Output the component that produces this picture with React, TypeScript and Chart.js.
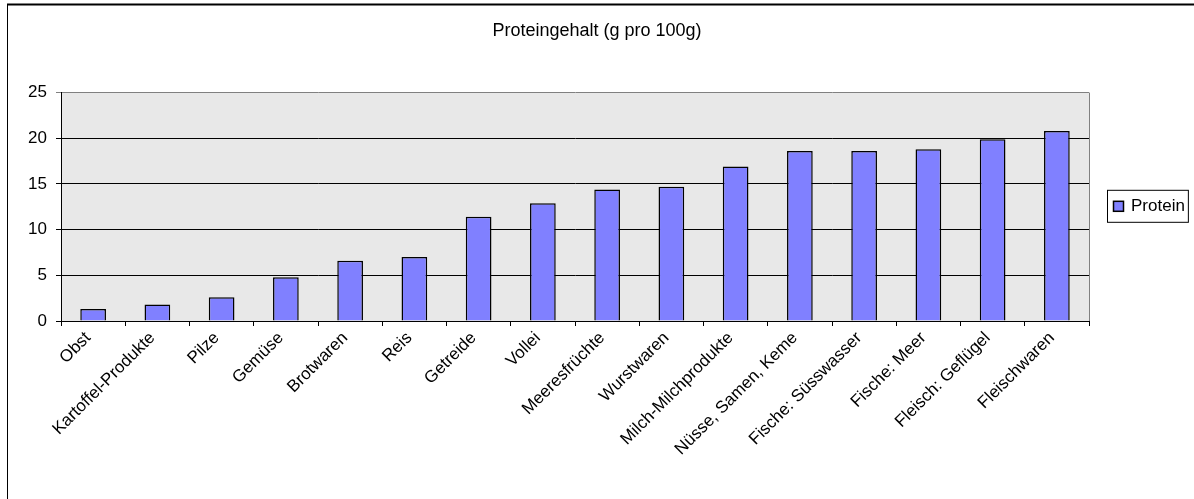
import React, { useEffect, useRef } from "react";
import { Chart, registerables } from "chart.js";

Chart.register(...registerables);

const categories = [
  "Obst",
  "Kartoffel-Produkte",
  "Pilze",
  "Gemüse",
  "Brotwaren",
  "Reis",
  "Getreide",
  "Vollei",
  "Meeresfrüchte",
  "Wurstwaren",
  "Milch-Milchprodukte",
  "Nüsse, Samen, Keme",
  "Fische: Süsswasser",
  "Fische: Meer",
  "Fleisch: Geflügel",
  "Fleischwaren",
];
const proteinValues = [1.3, 1.8, 2.6, 4.8, 6.6, 7.0, 11.4, 12.9, 14.4, 14.7, 16.9, 18.6, 18.6, 18.8, 19.9, 20.8];
const seriesLabel = "Protein";
const chartTitle = "Proteingehalt (g pro 100g)";
const yMin = 0;
const yMax = 25;
const yStep = 5;

const FONT = "'Liberation Sans', Arial, sans-serif";

const decorPlugin = {
  id: "decor",
  beforeDraw(chart: any) {
    const { ctx, chartArea } = chart;
    ctx.save();
    ctx.fillStyle = "#ffffff";
    ctx.fillRect(0, 0, chart.width, chart.height);
    ctx.fillStyle = "rgb(232,232,232)";
    ctx.fillRect(chartArea.left, chartArea.top, chartArea.right - chartArea.left, chartArea.bottom - chartArea.top);
    ctx.restore();
  },
  afterDraw(chart: any) {
    const { ctx, chartArea } = chart;
    ctx.save();
    // plot area border (right)
    ctx.strokeStyle = "#808080";
    ctx.lineWidth = 1;
    ctx.beginPath();
    ctx.moveTo(chartArea.right + 0.5, chartArea.top);
    ctx.lineTo(chartArea.right + 0.5, chartArea.bottom);
    ctx.stroke();
    // outer frame
    ctx.strokeStyle = "#000";
    ctx.lineWidth = 1;
    ctx.beginPath();
    ctx.moveTo(7.5, chart.height);
    ctx.lineTo(7.5, 4.5);
    ctx.stroke();
    ctx.lineWidth = 2;
    ctx.beginPath();
    ctx.moveTo(7, 4.5);
    ctx.lineTo(chart.width, 4.5);
    ctx.stroke();
    // legend
    const ds = chart.data.datasets[0];
    const fontSize = 17;
    ctx.font = `${fontSize}px ${FONT}`;
    const tw = ctx.measureText(ds.label).width;
    const boxX = chartArea.right + 18;
    const boxY = (chartArea.top + chartArea.bottom) / 2 - 17;
    const boxW = 6 + 10 + 8 + tw + 3;
    const boxH = 32;
    ctx.strokeStyle = "#000";
    ctx.lineWidth = 1;
    ctx.strokeRect(boxX + 0.5, boxY + 0.5, boxW, boxH);
    ctx.fillStyle = ds.backgroundColor;
    ctx.lineWidth = 1.5;
    ctx.fillRect(boxX + 6.5, boxY + 11.5, 10, 10);
    ctx.strokeRect(boxX + 6.5, boxY + 11.5, 10, 10);
    ctx.fillStyle = "#000";
    ctx.textBaseline = "middle";
    ctx.textAlign = "left";
    ctx.fillText(ds.label, boxX + 24, boxY + 17);
    ctx.restore();
  },
};

export default function App() {
  const ref = useRef<HTMLCanvasElement>(null);
  useEffect(() => {
    if (!ref.current) return;
    const chart = new Chart(ref.current, {
      type: "bar",
      data: {
        labels: categories,
        datasets: [
          {
            label: seriesLabel,
            data: proteinValues,
            backgroundColor: "#8080ff",
            borderColor: "#000000",
            borderWidth: 1.5,
            barPercentage: 0.4,
            categoryPercentage: 1,
          },
        ],
      },
      options: {
        responsive: false,
        animation: false,
        layout: { padding: { left: 0, right: 0, top: 0, bottom: 0 } },
        plugins: {
          legend: { display: false },
          tooltip: { enabled: false },
          title: {
            display: true,
            text: chartTitle,
            color: "#000",
            font: { family: FONT, size: 18, weight: "normal" },
            padding: { top: 20, bottom: 51 },
          },
        },
        scales: {
          x: {
            grid: {
              offset: true,
              drawOnChartArea: false,
              drawTicks: true,
              tickLength: 5,
              color: "#000",
            },
            border: { color: "#000" },
            ticks: {
              autoSkip: false,
              maxRotation: 45,
              minRotation: 45,
              color: "#000",
              padding: 2,
              labelOffset: -5,
              font: { family: FONT, size: 17 },
            },
            afterFit: (s: any) => {
              s.height = 178;
            },
          },
          y: {
            min: yMin,
            max: yMax,
            ticks: {
              stepSize: yStep,
              color: "#000",
              padding: 9,
              font: { family: FONT, size: 17 },
            },
            grid: {
              color: (c: any) => (c.tick && c.tick.value === yMax ? "#808080" : "#000"),
              tickLength: 5,
              drawTicks: true,
            },
            border: { color: "#000" },
            afterFit: (s: any) => {
              s.width = 61;
            },
          },
          legendSpace: {
            type: "linear",
            position: "right",
            display: true,
            grid: { display: false, drawTicks: false },
            border: { display: false },
            ticks: { display: false },
            afterFit: (s: any) => {
              s.width = 105;
            },
          },
        },
      },
      plugins: [decorPlugin],
    });
    return () => chart.destroy();
  }, []);
  return (
    <div style={{ position: "absolute", left: 0, top: 0, width: 1194, height: 499 }}>
      <canvas ref={ref} width={1194} height={499} />
    </div>
  );
}
